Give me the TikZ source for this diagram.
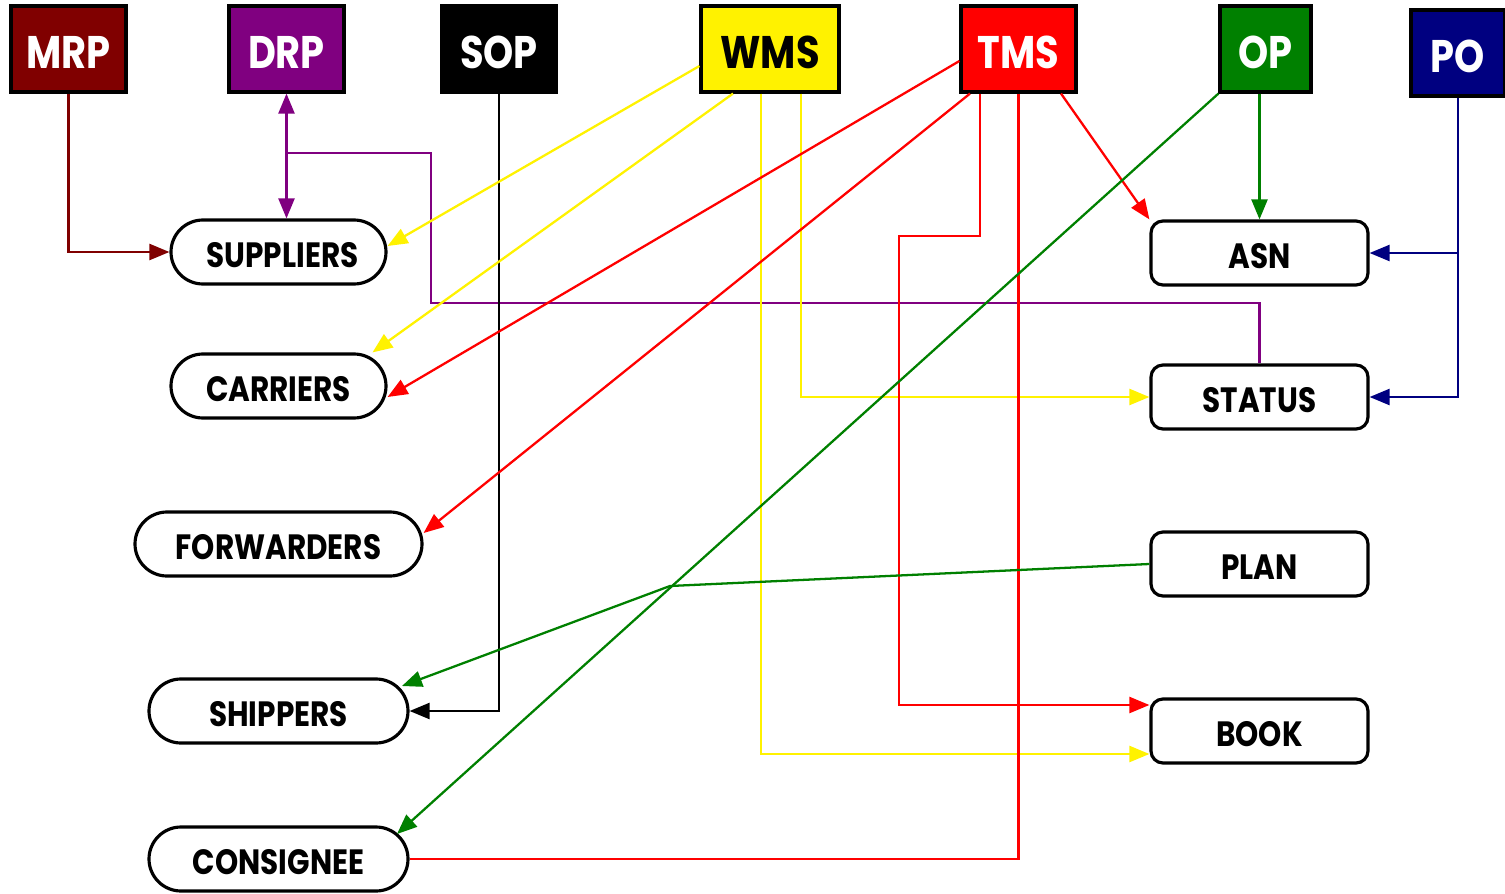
\documentclass[tikz,border=0pt]{standalone}
\usepackage{fontspec}
\setmainfont{Poppins}[FakeStretch=0.84]
\usetikzlibrary{arrows.meta, shapes.misc}
\definecolor{mrpred}{HTML}{800000}
\definecolor{drppurple}{HTML}{800080}
\definecolor{opgreen}{HTML}{008000}
\definecolor{poblue}{HTML}{000080}
\begin{document}
\begin{tikzpicture}[x=0.1mm, y=-0.1mm, >={Triangle[length=2mm, width=1.6mm]}, line width=0.65pt,
    sys/.style={draw=black, line width=0.9pt, minimum width=11.5mm, minimum height=8.6mm,
        inner sep=0pt, text height=4mm, text depth=0pt, text=white,
        font=\bfseries\fontsize{13}{15}\selectfont},
    party/.style={draw, rounded rectangle, line width=0.9pt, minimum height=6.4mm,
        inner sep=0pt, text height=3.1mm, text depth=0pt, font=\bfseries\fontsize{10}{12}\selectfont},
    doc/.style={draw, rounded corners=1.2mm, line width=0.9pt, minimum width=21.7mm,
        minimum height=6.4mm, inner sep=0pt, text height=3.1mm, text depth=0pt,
        font=\bfseries\fontsize{10}{12}\selectfont}]
    \useasboundingbox (0, 0) rectangle (1505, 894);
    % systems
    \node[sys, fill=mrpred] (mrp) at (68.5, 49) {MRP};
    \node[sys, fill=drppurple] (drp) at (286.5, 49) {DRP};
    \node[sys, fill=black] (sop) at (499, 49) {SOP};
    \node[sys, fill=yellow, text=black, minimum width=13.8mm] (wms) at (770, 49) {WMS};
    \node[sys, fill=red] (tms) at (1018.5, 49) {TMS};
    \node[sys, fill=opgreen, minimum width=9.1mm] (op) at (1265.5, 49) {OP};
    \node[sys, fill=poblue, minimum width=9.4mm] (po) at (1458, 53) {PO};
    % parties
    \node[party, minimum width=21.5mm] (sup) at (278.5, 252) {\hspace{0.8mm}SUPPLIERS};
    \node[party, minimum width=21.5mm] (car) at (278.5, 386) {CARRIERS};
    \node[party, minimum width=28.7mm] (fwd) at (278.5, 544) {FORWARDERS};
    \node[party, minimum width=25.9mm] (shp) at (278.5, 711) {SHIPPERS};
    \node[party, minimum width=25.9mm] (cons) at (278.5, 859) {CONSIGNEE};
    % documents
    \node[doc] (asn) at (1259.5, 253) {ASN};
    \node[doc] (stat) at (1259.5, 397) {STATUS};
    \node[doc] (plan) at (1259.5, 564) {PLAN};
    \node[doc] (book) at (1259.5, 731) {BOOK};
    \coordinate (drpjoin) at (286.5, 153);
    \coordinate (planbend) at (670, 586);
    \coordinate (pobranch) at (po.south |- asn.east);
    % MRP, DRP, SOP
    \draw[mrpred, ->] (mrp.south) |- (sup.west);
    \draw[drppurple, <->] (drp.south) -- (drp.south |- sup.north);
    \draw[drppurple] (drpjoin) -| (431, 303) -| (stat.north);
    \draw[->] (sop.south) |- (shp.east);
    % WMS
    \draw[yellow, ->] ([yshift=-1.7mm]wms.west) -- ([yshift=0.6mm]sup.east);
    \draw[yellow, ->] ([xshift=-3.7mm]wms.south) -- ([xshift=9.4mm]car.north);
    \draw[yellow, ->] ([xshift=3.1mm]wms.south) |- (stat.west);
    \draw[yellow, ->] ([xshift=-0.9mm]wms.south) |- ([yshift=-2.3mm]book.west);
    % TMS
    \draw[red, ->] ([yshift=-1.2mm]tms.west) -- ([yshift=-1.1mm]car.east);
    \draw[red, ->] ([xshift=-4.85mm]tms.south) -- ([yshift=1.1mm]fwd.east);
    \draw[red, ->] ([xshift=-3.85mm]tms.south) |- (899, 236) |- ([yshift=2.6mm]book.west);
    \draw[red] (tms.south) |- (cons.east);
    \draw[red, ->] ([xshift=4.25mm]tms.south) -- (asn.north west);
    % OP
    \draw[opgreen, ->] (asn.north |- op.south) -- (asn.north);
    \draw[opgreen, ->] (op.south west) -- ([shift={(11.85mm, 2.5mm)}]cons.center);
    \draw[opgreen, ->] (plan.west) -- (planbend) -- ([shift={(12.35mm, 2.5mm)}]shp.center);
    % PO
    \draw[poblue, ->] (po.south) |- (stat.east);
    \draw[poblue, ->] (pobranch) -- (asn.east);
\end{tikzpicture}
\end{document}
